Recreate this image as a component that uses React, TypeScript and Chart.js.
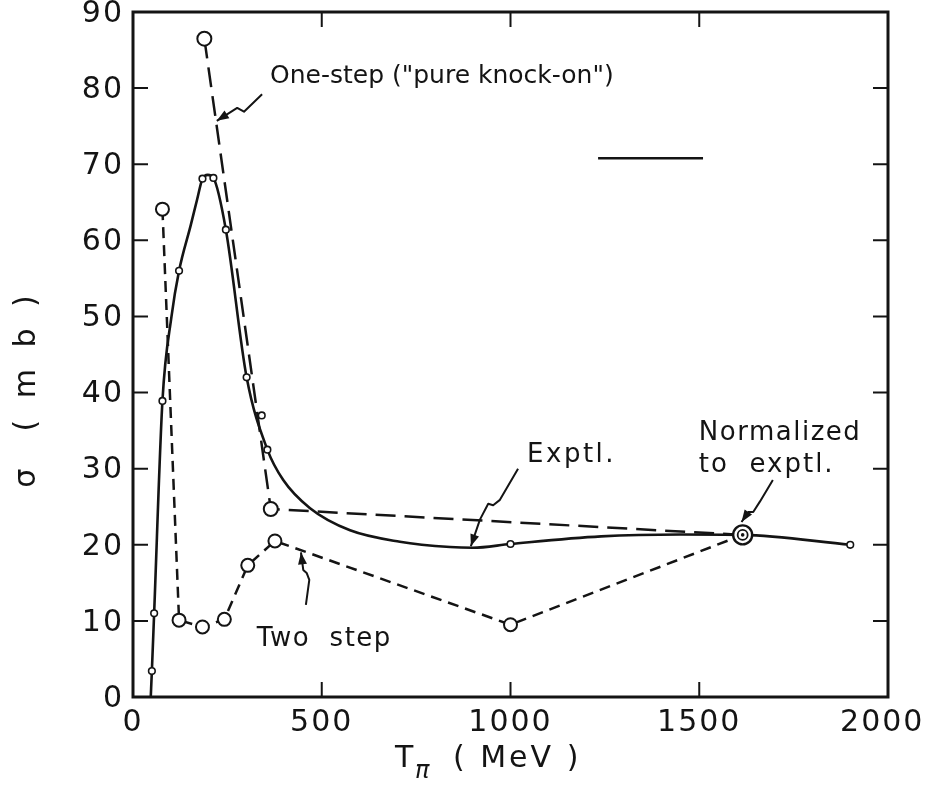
import React, { useEffect, useRef } from 'react';
import { Chart, registerables } from 'chart.js';

Chart.register(...registerables);

// ---------------- data ----------------
// Experimental cross section: measured points (small open circles)
const exptPointT = [50, 56, 78, 122, 184, 213, 246, 301, 341, 356, 1000, 1900];
const exptPointSigma = [3.4, 11.0, 38.9, 56.0, 68.1, 68.2, 61.4, 42.0, 37.0, 32.5, 20.1, 20.0];
// Experimental smooth curve as traced on the figure
const exptCurveT = [47, 50, 56, 78, 102, 122, 153, 170, 184, 198, 213, 246, 301, 356, 398, 469, 575, 707, 840, 900, 1000, 1240, 1450, 1615, 1900];
const exptCurveSigma = [0, 3.4, 11.0, 38.9, 50.0, 56.0, 62.0, 65.4, 68.1, 68.6, 68.2, 61.4, 42.0, 32.5, 28.5, 24.8, 21.9, 20.4, 19.7, 19.6, 20.1, 21.1, 21.35, 21.3, 20.0];
// One-step ("pure knock-on") calculation
const oneStepT = [189, 365, 1615];
const oneStepSigma = [86.5, 24.7, 21.3];
// Two-step calculation
const twoStepT = [78, 122, 184, 242, 304, 376, 1000, 1615];
const twoStepSigma = [64.1, 10.1, 9.2, 10.2, 17.3, 20.5, 9.5, 21.3];
// Normalization point
const normT = [1615];
const normSigma = [21.3];

// axis ranges / steps
const xMin = 0, xMax = 2000, xStep = 500;
const yMin = 0, yMax = 90, yStep = 10;

// ---------------- annotations (data coordinates) ----------------
const notes = [
  { text: 'One-step ("pure knock-on")', t: 363, s: 80.7, size: 25, spacing: 0 },
  { text: 'Exptl.', t: 1044, s: 30.9, size: 26, spacing: 2.5 },
  { text: 'Normalized', t: 1499, s: 33.8, size: 26, spacing: 1.5 },
  { text: 'to  exptl.', t: 1499, s: 29.6, size: 26, spacing: 2 },
  { text: 'Two  step', t: 328, s: 6.7, size: 26, spacing: 1.5 },
];
const arrows: number[][][] = [
  [[342, 79.2], [294, 76.9], [276, 77.4], [222, 75.7]],
  [[1020, 30.0], [972, 25.9], [954, 25.2], [941, 25.4], [919, 23.3], [895, 19.8]],
  [[1695, 28.5], [1661, 25.7], [1643, 24.3], [1630, 24.3], [1612, 23.0]],
  [[458, 12.1], [467, 15.4], [460, 16.3], [451, 16.7], [445, 19.0]],
];
const strayLineT = [1232, 1510];
const strayLineSigma = 70.8;

const INK = '#141414';
const FONT = '"DejaVu Sans", "Liberation Sans", sans-serif';

const toXY = (xs: number[], ys: number[]) => xs.map((x, i) => ({ x, y: ys[i] }));

const figurePlugin = {
  id: 'figureDecor',
  beforeDraw(chart: any) {
    chart.ctx.letterSpacing = '2px';
  },
  afterDraw(chart: any) {
    const { ctx, chartArea: a, scales } = chart;
    const xs = scales.x;
    const ys = scales.y;
    const px = (t: number) => xs.getPixelForValue(t);
    const py = (s: number) => ys.getPixelForValue(s);
    ctx.save();
    ctx.strokeStyle = INK;
    ctx.fillStyle = INK;
    ctx.setLineDash([]);
    ctx.lineCap = 'butt';

    // frame
    ctx.lineWidth = 3;
    ctx.strokeRect(a.left, a.top, a.right - a.left, a.bottom - a.top);

    // inward tick marks on all four sides
    ctx.lineWidth = 2;
    ctx.beginPath();
    xs.ticks.forEach((tk: any) => {
      if (tk.value <= xs.min || tk.value >= xs.max) return;
      const x = px(tk.value);
      ctx.moveTo(x, a.bottom);
      ctx.lineTo(x, a.bottom - 15);
      ctx.moveTo(x, a.top);
      ctx.lineTo(x, a.top + 15);
    });
    ys.ticks.forEach((tk: any) => {
      if (tk.value <= ys.min || tk.value >= ys.max) return;
      const y = py(tk.value);
      ctx.moveTo(a.left, y);
      ctx.lineTo(a.left + 15, y);
      ctx.moveTo(a.right, y);
      ctx.lineTo(a.right - 15, y);
    });
    ctx.stroke();

    // stray solid line segment
    ctx.lineWidth = 2.5;
    ctx.beginPath();
    ctx.moveTo(px(strayLineT[0]), py(strayLineSigma));
    ctx.lineTo(px(strayLineT[1]), py(strayLineSigma));
    ctx.stroke();

    // arrows
    ctx.lineWidth = 2;
    ctx.lineJoin = 'round';
    arrows.forEach((pts) => {
      ctx.beginPath();
      pts.forEach(([t, s], i) => (i ? ctx.lineTo(px(t), py(s)) : ctx.moveTo(px(t), py(s))));
      ctx.stroke();
      const [t1, s1] = pts[pts.length - 2];
      const [t2, s2] = pts[pts.length - 1];
      const x1 = px(t1), y1 = py(s1), x2 = px(t2), y2 = py(s2);
      const ang = Math.atan2(y2 - y1, x2 - x1);
      const L = 12, W = 4.5;
      const c = Math.cos(ang), sn = Math.sin(ang);
      ctx.beginPath();
      ctx.moveTo(x2, y2);
      ctx.lineTo(x2 - L * c + W * sn, y2 - L * sn - W * c);
      ctx.lineTo(x2 - L * c - W * sn, y2 - L * sn + W * c);
      ctx.closePath();
      ctx.fill();
    });

    // annotation texts
    ctx.textAlign = 'left';
    ctx.textBaseline = 'alphabetic';
    notes.forEach((n) => {
      ctx.font = `${n.size}px ${FONT}`;
      ctx.letterSpacing = `${n.spacing}px`;
      ctx.fillText(n.text, px(n.t), py(n.s));
    });

    // y-axis title
    ctx.save();
    ctx.font = `30px ${FONT}`;
    ctx.letterSpacing = '6px';
    ctx.textAlign = 'center';
    ctx.translate(35, (a.top + a.bottom) / 2 + 34);
    ctx.rotate(-Math.PI / 2);
    ctx.fillText('σ  ( m b )', 0, 0);
    ctx.restore();

    // x-axis title: T_π ( MeV )
    const xl = a.left + 262;
    const base = a.bottom + 70;
    ctx.letterSpacing = '0px';
    ctx.font = `30px ${FONT}`;
    ctx.fillText('T', xl, base);
    ctx.font = `italic 24px ${FONT}`;
    ctx.fillText('π', xl + 20, base + 11);
    ctx.font = `30px ${FONT}`;
    ctx.letterSpacing = '3px';
    ctx.fillText('( MeV )', xl + 58, base);

    ctx.restore();
    ctx.letterSpacing = '0px';
  },
};

export default function App() {
  const ref = useRef<HTMLCanvasElement>(null);
  useEffect(() => {
    const tickFont = { family: FONT, size: 30 };
    const chart = new Chart(ref.current as HTMLCanvasElement, {
      type: 'scatter',
      data: {
        datasets: [
          {
            label: 'Normalized (center)',
            data: toXY(normT, normSigma),
            showLine: false,
            pointRadius: 1.8,
            pointBackgroundColor: INK,
            pointBorderWidth: 0,
          },
          {
            label: 'Normalized (inner ring)',
            data: toXY(normT, normSigma),
            showLine: false,
            pointRadius: 5,
            pointBackgroundColor: '#ffffff',
            pointBorderColor: INK,
            pointBorderWidth: 1.8,
          },
          {
            label: 'Normalized to exptl.',
            data: toXY(normT, normSigma),
            showLine: false,
            pointRadius: 9.5,
            pointBackgroundColor: '#ffffff',
            pointBorderColor: INK,
            pointBorderWidth: 2.4,
          },
          {
            label: 'Exptl. points',
            data: toXY(exptPointT, exptPointSigma),
            showLine: false,
            pointRadius: 3.3,
            pointBackgroundColor: '#ffffff',
            pointBorderColor: INK,
            pointBorderWidth: 1.6,
          },
          {
            label: 'One-step',
            data: toXY(oneStepT, oneStepSigma),
            showLine: true,
            borderColor: INK,
            borderWidth: 2.5,
            borderDash: [20, 9],
            pointRadius: 7,
            pointBackgroundColor: '#ffffff',
            pointBorderColor: INK,
            pointBorderWidth: 2,
          },
          {
            label: 'Two step',
            data: toXY(twoStepT, twoStepSigma),
            showLine: true,
            borderColor: INK,
            borderWidth: 2.5,
            borderDash: [11, 7],
            pointRadius: 6.5,
            pointBackgroundColor: '#ffffff',
            pointBorderColor: INK,
            pointBorderWidth: 2,
          },
          {
            label: 'Exptl.',
            data: toXY(exptCurveT, exptCurveSigma),
            showLine: true,
            borderColor: INK,
            borderWidth: 2.6,
            pointRadius: 0,
            tension: 0.4,
            cubicInterpolationMode: 'monotone',
          },
        ],
      },
      options: {
        responsive: false,
        devicePixelRatio: 1,
        animation: false,
        events: [],
        layout: { padding: { top: 12, right: 37, left: 0, bottom: 0 } },
        plugins: {
          legend: { display: false },
          tooltip: { enabled: false },
        },
        scales: {
          x: {
            type: 'linear',
            min: xMin,
            max: xMax,
            grid: { display: false, drawTicks: false },
            border: { display: false },
            ticks: {
              stepSize: xStep,
              font: tickFont,
              color: INK,
              padding: 8,
              maxRotation: 0,
              autoSkip: false,
              callback: (v: any) => (Number(v) >= xMax ? `${v}\u00a0` : `${v}`),
            },
            afterFit: (s: any) => {
              s.height = 92;
              s.paddingLeft = 0;
              s.paddingRight = 0;
            },
          },
          y: {
            type: 'linear',
            min: yMin,
            max: yMax,
            grid: { display: false, drawTicks: false },
            border: { display: false },
            ticks: {
              stepSize: yStep,
              font: tickFont,
              color: INK,
              padding: 9,
              labelOffset: 2,
              autoSkip: false,
              callback: (v: any) => `${v}`,
            },
            afterFit: (s: any) => {
              s.width = 133;
              s.paddingTop = 0;
              s.paddingBottom = 0;
            },
          },
        },
      },
      plugins: [figurePlugin],
    } as any);
    return () => chart.destroy();
  }, []);
  return (
    <canvas
      ref={ref}
      width={925}
      height={789}
      style={{ position: 'fixed', left: 0, top: 0, width: 925, height: 789, background: '#ffffff' }}
    />
  );
}
